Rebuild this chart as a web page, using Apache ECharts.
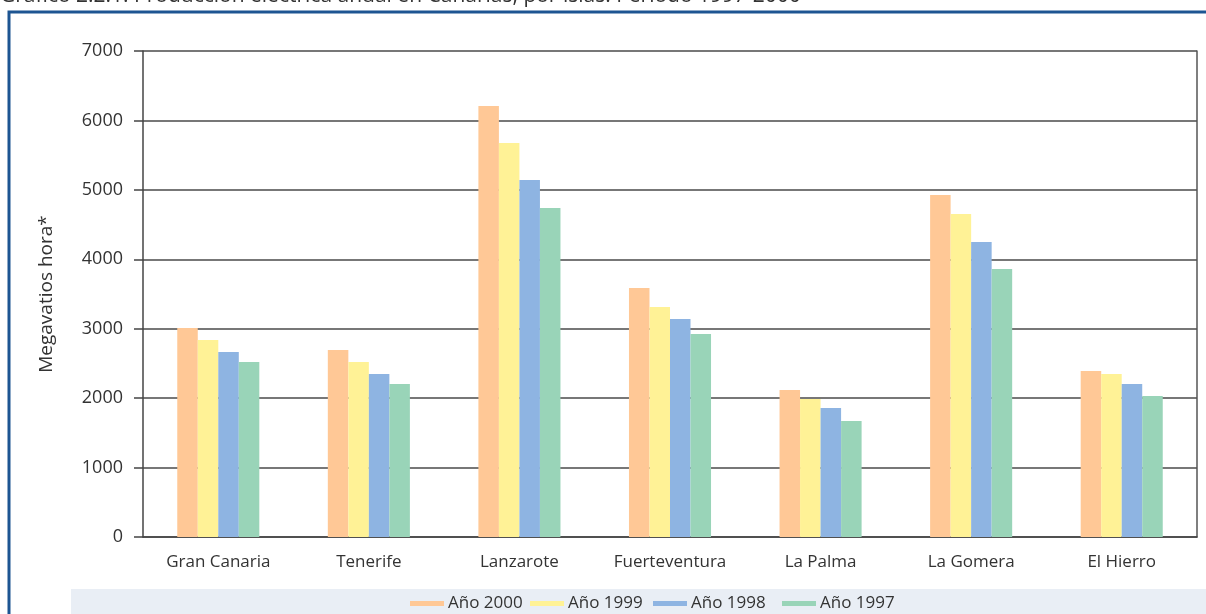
<!DOCTYPE html>
<html><head><meta charset="utf-8">
<script src="https://cdn.jsdelivr.net/npm/echarts@6/dist/echarts.min.js"></script>
<style>html,body{margin:0;padding:0;background:#fff}#c{width:1206px;height:614px}</style>
</head><body><div id="c"></div>
<script>
const islas = ['Gran Canaria','Tenerife','Lanzarote','Fuerteventura','La Palma','La Gomera','El Hierro'];
const anio2000 = [3010, 2693, 6208, 3586, 2117, 4926, 2391];
const anio1999 = [2837, 2520, 5675, 3313, 1988, 4652, 2348];
const anio1998 = [2665, 2348, 5142, 3140, 1858, 4249, 2204];
const anio1997 = [2520, 2204, 4739, 2924, 1671, 3860, 2031];
const seriesNames = ['Año 2000','Año 1999','Año 1998','Año 1997'];
const colors = ['#FFC896','#FFF296','#8EB4E2','#99D4B8'];
const yTicks = {min:0, max:7000, interval:1000};
const titleText = 'Gráfico 2.2.1. Producción eléctrica anual en Canarias, por islas. Periodo 1997-2000';

const FONT = '"Open Sans", "Noto Sans", sans-serif';
const chart = echarts.init(document.getElementById('c'), null, {renderer:'canvas'});
const data = [anio2000, anio1999, anio1998, anio1997];
const legendLefts = [405, 525, 648, 777];
chart.setOption({
  animation:false,
  textStyle:{fontFamily:FONT},
  graphic:[
    {type:'text', left:0, top:-14, style:{text:titleText, fontSize:21, fontFamily:FONT, fill:'#333'}},
    {type:'rect', shape:{x:9, y:12, width:1210, height:620}, style:{fill:'none', stroke:'#1D5592', lineWidth:3}, z:-1},
    {type:'rect', shape:{x:71, y:589, width:1140, height:30}, style:{fill:'#E9EEF5'}, z:-1}
  ],
  grid:{left:143, right:9, top:51, bottom:77},
  legend: seriesNames.map((n,i)=>({
    data:[n], bottom:-3, left:legendLefts[i], icon:'rect', itemWidth:34, itemHeight:5, itemGap:0,
    textStyle:{fontSize:17, color:'#333', fontFamily:FONT, padding:[0,0,0,-1]}
  })),
  xAxis:{
    type:'category', data:islas,
    axisLine:{lineStyle:{color:'#444', width:1.5}},
    axisTick:{length:8, lineStyle:{color:'#444', width:1.5}},
    axisLabel:{fontSize:17, color:'#333', margin:17}
  },
  yAxis:[{
    type:'value', min:yTicks.min, max:yTicks.max, interval:yTicks.interval,
    name:'Megavatios hora*', nameLocation:'middle', nameGap:87, nameRotate:90,
    nameTextStyle:{fontSize:19, color:'#333'},
    axisLine:{show:true, lineStyle:{color:'#444', width:1.5}},
    axisTick:{show:true, length:9, lineStyle:{color:'#444', width:1.5}},
    axisLabel:{fontSize:18, color:'#333', margin:20, formatter:v=>String(v)},
    splitLine:{lineStyle:{color:'#4a4a4a', width:1.6}}
  },{
    type:'value', position:'right', min:yTicks.min, max:yTicks.max, interval:yTicks.interval,
    axisLine:{show:true, lineStyle:{color:'#555', width:1.5}},
    axisTick:{show:false}, axisLabel:{show:false}, splitLine:{show:false}
  }],
  series: seriesNames.map((n,i)=>({
    name:n, type:'bar', data:data[i], barGap:'0%', barCategoryGap:'45.5%',
    itemStyle:{color:colors[i]}
  }))
});
</script></body></html>
